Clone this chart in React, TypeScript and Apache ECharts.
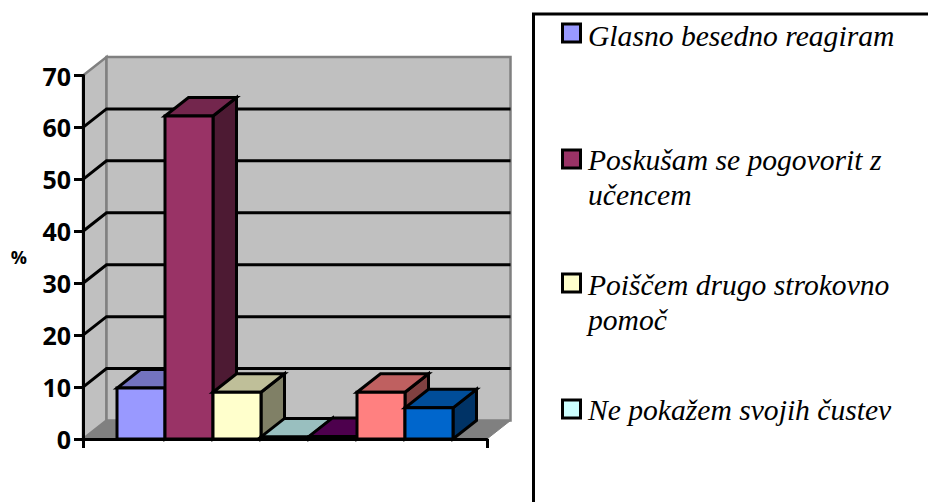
import React, { useEffect, useRef } from "react";
import * as echarts from "echarts";

const category = [""];
const yTicks = [0, 10, 20, 30, 40, 50, 60, 70];
const legendNames = [
  "Glasno besedno reagiram",
  "Poskušam se pogovorit z\nučencem",
  "Poiščem drugo strokovno\npomoč",
  "Ne pokažem svojih čustev",
];
const barValues = [9.8, 62.2, 9, 0.4, 0.5, 9, 6];
const frontColors = ["#9999FF", "#993366", "#FFFFCC", "#CCFFFF", "#660066", "#FF8080", "#0066CC"];
const topColors = ["#7373BF", "#73264D", "#BFBF99", "#99BFBF", "#4D004D", "#BF6060", "#004D99"];
const sideColors = ["#4D4D80", "#4D1A33", "#808066", "#668080", "#330033", "#804040", "#003366"];

const DX = 23.5;
const DY = -18.5;
const BAR_FRAC = 48 / 404;
const PAD_FRAC = 34 / 404;
const LINE = 3;

function poly(points: number[][], fill: string, stroke: string, lineWidth: number) {
  return { type: "polygon", shape: { points }, style: { fill, stroke, lineWidth, lineJoin: "miter" } };
}

function wallRender(_: any, api: any) {
  const band = api.size([1, 0])[0];
  const cx = api.coord([0, 0])[0];
  const x0 = cx - band / 2;
  const x1 = cx + band / 2;
  const y0 = api.coord([0, 0])[1];
  const yT = api.coord([0, 70])[1];
  const children: any[] = [
    poly([[x0, y0], [x0 + DX, y0 + DY], [x1 + DX, y0 + DY], [x1, y0]], "#808080", "#808080", 1),
    poly([[x0, yT], [x0 + DX, yT + DY], [x0 + DX, y0 + DY], [x0, y0]], "#C0C0C0", "#808080", 2.5),
    poly([[x0 + DX, yT + DY], [x1 + DX, yT + DY], [x1 + DX, y0 + DY], [x0 + DX, y0 + DY]], "#C0C0C0", "#808080", 2.5),
  ];
  yTicks.forEach((t) => {
    const y = api.coord([0, t])[1];
    if (t > 0 && t < 70) {
      children.push({
        type: "polyline",
        shape: { points: [[x0, y], [x0 + DX, y + DY], [x1 + DX, y + DY]] },
        style: { fill: "none", stroke: "#000", lineWidth: LINE },
      });
    }
  });
  return { type: "group", children };
}

function barRender(index: number) {
  return (_: any, api: any) => {
    const band = api.size([1, 0])[0];
    const cx = api.coord([0, 0])[0];
    const w = band * BAR_FRAC;
    const xa = cx - band / 2 + band * PAD_FRAC + index * w;
    const xb = xa + w;
    const yb = api.coord([0, 0])[1];
    const yt = api.coord([0, api.value(1)])[1];
    return {
      type: "group",
      children: [
        poly([[xb, yt], [xb + DX, yt + DY], [xb + DX, yb + DY], [xb, yb]], sideColors[index], "#000", LINE),
        poly([[xa, yt], [xa + DX, yt + DY], [xb + DX, yt + DY], [xb, yt]], topColors[index], "#000", LINE),
        poly([[xa, yt], [xb, yt], [xb, yb], [xa, yb]], frontColors[index], "#000", LINE),
      ],
    };
  };
}

const legendSwatchY = [33, 159, 283, 409];
const legendTextY = [35, 159, 284, 409];

export default function App() {
  const ref = useRef<HTMLDivElement>(null);
  useEffect(() => {
    document.body.style.margin = "0";
    const chart = echarts.init(ref.current!, undefined, { renderer: "svg" });
    const graphic: any[] = [
      {
        type: "polyline",
        shape: { points: [[533.5, 520], [533.5, 14], [940, 14]] },
        style: { fill: "none", stroke: "#000", lineWidth: 3 },
      },
    ];
    legendNames.forEach((name, i) => {
      graphic.push({
        type: "rect",
        shape: { x: 562.5, y: legendSwatchY[i] - 9, width: 18, height: 18 },
        style: { fill: frontColors[i], stroke: "#000", lineWidth: 3 },
      });
      graphic.push({
        type: "text",
        x: 588,
        y: legendTextY[i] - 17,
        style: {
          text: name,
          font: "italic 29.6px 'Liberation Serif'",
          fill: "#000",
          lineHeight: 35,
          verticalAlign: "top",
        },
      });
    });
    chart.setOption({
      animation: false,
      backgroundColor: "#fff",
      grid: { left: 83, right: 441, top: 75.5, bottom: 63 },
      xAxis: {
        type: "category",
        data: category,
        axisLine: { lineStyle: { color: "#000", width: 3 } },
        axisTick: { show: true, length: 9, lineStyle: { color: "#000", width: 3 } },
        axisLabel: { show: false },
        splitLine: { show: false },
      },
      yAxis: {
        type: "value",
        min: 0,
        max: 70,
        interval: 10,
        name: "%",
        nameLocation: "middle",
        nameRotate: 0,
        nameGap: 56,
        nameTextStyle: { color: "#000", fontFamily: "Open Sans", fontWeight: "bold", fontSize: 18 },
        axisLine: { show: true, lineStyle: { color: "#000", width: 3 } },
        axisTick: { show: true, length: 9, lineStyle: { color: "#000", width: 3 } },
        axisLabel: { color: "#000", fontFamily: "Open Sans", fontWeight: "bold", fontSize: 25, margin: 12 },
        splitLine: { show: false },
      },
      series: [
        { type: "custom", z: -1, silent: true, clip: false, renderItem: wallRender, data: [[0, 0]], encode: { x: 0, y: 1 } },
        ...barValues.map((v, i) => ({
          type: "custom",
          name: legendNames[i] ? legendNames[i].replace("\n", " ") : undefined,
          z: 2 + i,
          clip: false,
          renderItem: barRender(i),
          data: [[0, v]],
          encode: { x: 0, y: 1 },
        })),
      ],
      graphic,
    });
    return () => chart.dispose();
  }, []);
  return <div ref={ref} style={{ width: 928, height: 502, overflow: "hidden" }} />;
}
